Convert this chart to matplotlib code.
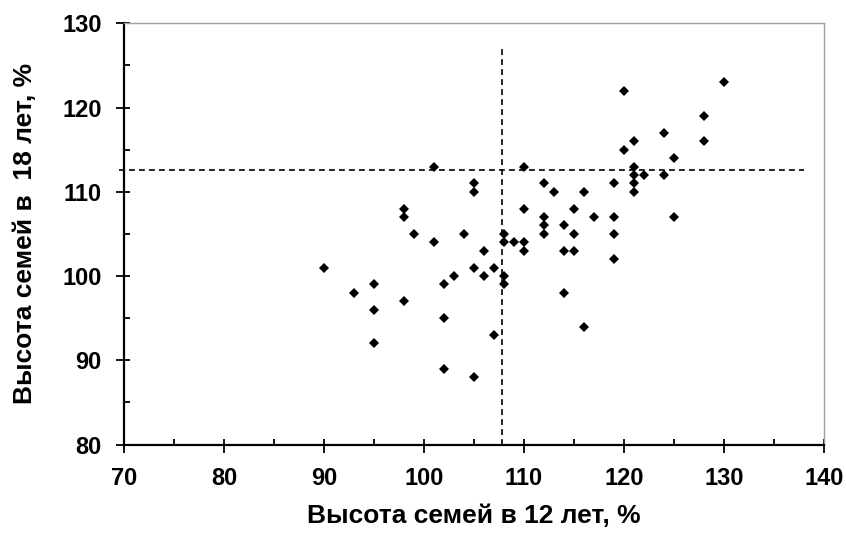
#!/usr/bin/env python
# Scatter: seed-family height at 12 vs 18 years (% of standard), with mean lines.

import matplotlib
matplotlib.use("Agg")
import matplotlib.pyplot as plt
from matplotlib.ticker import MultipleLocator, FixedLocator
import numpy as np

plt.rcParams['font.family'] = ['Liberation Sans', 'DejaVu Sans']
plt.rcParams['font.weight'] = 'bold'

# height of seed families at 12 years, %
h12 = [90, 93, 95, 95, 95, 98, 98, 98, 99, 101, 101, 102, 102, 102, 103, 104,
       105, 105, 105, 105, 106, 106, 107, 107, 108, 108, 108, 108, 109,
       110, 110, 110, 110, 112, 112, 112, 112, 113, 114, 114, 114,
       115, 115, 115, 116, 116, 117, 119, 119, 119, 119, 120, 120,
       121, 121, 121, 121, 121, 122, 124, 124, 125, 125, 128, 128, 130]
# height of seed families at 18 years, %
h18 = [101, 98, 99, 96, 92, 108, 107, 97, 105, 113, 104, 99, 95, 89, 100, 105,
       111, 110, 101, 88, 103, 100, 101, 93, 105, 104, 100, 99, 104,
       113, 108, 104, 103, 111, 107, 106, 105, 110, 106, 103, 98,
       108, 105, 103, 110, 94, 107, 111, 107, 105, 102, 122, 115,
       116, 113, 112, 111, 110, 112, 117, 112, 114, 107, 119, 116, 123]

mean12 = 107.8
mean18 = 112.6

xlabel = "Высота семей в 12 лет, %"
ylabel = "Высота семей в  18 лет, %"

fig = plt.figure(figsize=(8.46, 5.38), dpi=100)
ax = fig.add_axes([124/846, 1-444.5/538, 700/846, (444.5-23.3)/538])

ax.plot(h12, h18, 'D', color='black', markersize=4.8, markeredgewidth=0,
        zorder=3)

# mean lines
ax.plot([69.5, 138], [mean18, mean18], color='black', lw=1.2,
        linestyle=(0, (3.5, 2.5)), clip_on=False, zorder=2)
ax.plot([mean12, mean12], [80, 127.4], color='black', lw=1.2,
        linestyle=(0, (3.5, 2.5)), zorder=2)

ax.set_xlim(70, 140)
ax.set_ylim(80, 130)
ax.xaxis.set_major_locator(MultipleLocator(10))
ax.yaxis.set_major_locator(MultipleLocator(10))
ax.xaxis.set_minor_locator(FixedLocator(np.arange(70, 141, 5)))
ax.yaxis.set_minor_locator(FixedLocator(np.arange(80, 131, 5)))
ax.xaxis.remove_overlapping_locs = False
ax.yaxis.remove_overlapping_locs = False

ax.tick_params(which='major', direction='out', length=6, width=1.3,
               labelsize=17, pad=10)
ax.tick_params(which='minor', direction='in', length=4, width=1.3)
for lab in ax.get_xticklabels() + ax.get_yticklabels():
    lab.set_fontweight('bold')

for s in ['left', 'bottom']:
    ax.spines[s].set_linewidth(1.6)
    ax.spines[s].set_color('black')
for s in ['top', 'right']:
    ax.spines[s].set_linewidth(1.0)
    ax.spines[s].set_color('#a0a0a0')

ax.set_xlabel(xlabel, fontsize=19, fontweight='bold', labelpad=10)
ax.set_ylabel(ylabel, fontsize=19, fontweight='bold', labelpad=18)

fig.savefig("out.png", dpi=100)
